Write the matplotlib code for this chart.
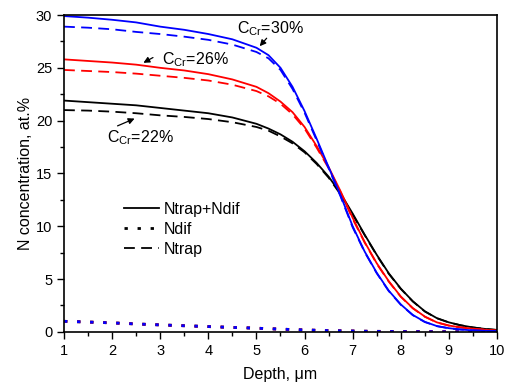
import matplotlib
matplotlib.use("Agg")
import matplotlib.pyplot as plt
from matplotlib.ticker import MultipleLocator

plt.rcParams['font.family'] = ['Liberation Sans', 'DejaVu Sans']
plt.rcParams['mathtext.fontset'] = 'custom'
plt.rcParams['mathtext.rm'] = 'Liberation Sans'
plt.rcParams['mathtext.default'] = 'regular'

# depth, um
depth = [1, 1.5, 2, 2.5, 3, 3.5, 4, 4.5, 5, 5.25, 5.5, 5.75, 6, 6.25, 6.5, 6.75,
         7, 7.25, 7.5, 7.75, 8, 8.25, 8.5, 8.75, 9, 9.25, 9.5, 9.75, 10]

# Ntrap+Ndif (solid)
tot_22 = [21.9, 21.75, 21.6, 21.45, 21.2, 20.95, 20.7, 20.3, 19.7, 19.25, 18.7, 18.0, 17.1, 16.0, 14.7, 13.1,
          11.2, 9.2, 7.3, 5.55, 4.1, 2.9, 1.95, 1.3, 0.9, 0.62, 0.42, 0.28, 0.18]
tot_26 = [25.8, 25.65, 25.5, 25.3, 25.0, 24.75, 24.4, 23.9, 23.2, 22.6, 21.8, 20.8, 19.4, 17.6, 15.6, 13.3,
          10.8, 8.5, 6.5, 4.8, 3.35, 2.25, 1.45, 0.9, 0.6, 0.42, 0.3, 0.2, 0.12]
tot_30 = [29.9, 29.75, 29.55, 29.3, 28.9, 28.6, 28.2, 27.7, 26.9, 26.2, 25.0, 23.2, 20.9, 18.3, 15.6, 12.9,
          10.0, 7.6, 5.6, 3.9, 2.6, 1.6, 0.95, 0.55, 0.35, 0.22, 0.14, 0.1, 0.07]

# Ntrap (dashed)
trap_22 = [21.0, 20.95, 20.85, 20.7, 20.5, 20.35, 20.15, 19.85, 19.4, 19.05, 18.5, 17.85, 17.0, 15.9, 14.6, 13.0,
           11.1, 9.15, 7.25, 5.5, 4.07, 2.88, 1.93, 1.29, 0.89, 0.62, 0.42, 0.28, 0.18]
trap_26 = [24.8, 24.7, 24.6, 24.45, 24.25, 24.05, 23.8, 23.4, 22.8, 22.3, 21.6, 20.6, 19.25, 17.45, 15.5, 13.2,
           10.7, 8.45, 6.45, 4.76, 3.32, 2.23, 1.43, 0.89, 0.59, 0.42, 0.3, 0.2, 0.12]
trap_30 = [28.9, 28.8, 28.65, 28.4, 28.2, 27.95, 27.65, 27.2, 26.5, 25.9, 24.8, 23.0, 20.75, 18.15, 15.5, 12.8,
           9.9, 7.55, 5.55, 3.86, 2.57, 1.58, 0.93, 0.54, 0.34, 0.22, 0.14, 0.1, 0.07]

# Ndif (dotted)
dif = [1.0, 0.93, 0.85, 0.75, 0.66, 0.58, 0.5, 0.42, 0.35, 0.3, 0.26, 0.22, 0.18, 0.15, 0.12, 0.1,
       0.08, 0.06, 0.05, 0.04, 0.03, 0.02, 0.02, 0.01, 0.01, 0.0, 0.0, 0.0, 0.0]

fig = plt.figure(figsize=(5.1, 3.85), dpi=100)
ax = fig.add_axes([0.1255, 0.138, 0.849, 0.823])

lw = 1.3
dash = (0, (6, 3.5))
dot = (0, (1.2, 3.5))
for tot, trap, c in [(tot_22, trap_22, 'black'), (tot_26, trap_26, 'red'), (tot_30, trap_30, 'blue')]:
    ax.plot(depth, tot, color=c, lw=lw)
    ax.plot(depth, trap, color=c, lw=lw, linestyle=dash)
    ax.plot(depth, dif, color=c, lw=2.0, linestyle=dot)

# legend with black proxies
h1, = ax.plot([], [], color='black', lw=lw)
h2, = ax.plot([], [], color='black', lw=2.0, linestyle=dot)
h3, = ax.plot([], [], color='black', lw=lw, linestyle=dash)
ax.legend([h1, h2, h3], ['Ntrap+Ndif', 'Ndif', 'Ntrap'], loc='upper left',
          bbox_to_anchor=(0.105, 0.455), frameon=False, fontsize=11.5,
          handlelength=2.2, handletextpad=0.3, labelspacing=0.3)

# annotations
arrow = dict(arrowstyle='-|>', color='black', lw=0.9, mutation_scale=9)
ax.text(4.6, 28.75, 'C$_{Cr}$=30%', fontsize=11.5, ha='left', va='center')
ax.annotate('', xy=(5.03, 26.85), xytext=(5.25, 28.0), arrowprops=arrow)
ax.text(3.04, 25.8, 'C$_{Cr}$=26%', fontsize=11.5, ha='left', va='center')
ax.annotate('', xy=(2.6, 25.35), xytext=(2.9, 26.1), arrowprops=arrow)
ax.text(1.9, 18.4, 'C$_{Cr}$=22%', fontsize=11.5, ha='left', va='center')
ax.annotate('', xy=(2.52, 20.3), xytext=(2.06, 19.4), arrowprops=arrow)

ax.set_xlim(1, 10)
ax.set_ylim(0, 30)
ax.xaxis.set_major_locator(MultipleLocator(1))
ax.xaxis.set_minor_locator(MultipleLocator(0.5))
ax.yaxis.set_major_locator(MultipleLocator(5))
ax.yaxis.set_minor_locator(MultipleLocator(2.5))
ax.tick_params(which='major', direction='out', length=5, width=1, labelsize=10.5)
ax.tick_params(which='minor', direction='out', length=3, width=1)
for s in ax.spines.values():
    s.set_linewidth(1.2)

ax.set_xlabel('Depth, μm', fontsize=11.5, labelpad=7)
ax.set_ylabel('N concentration, at.%', fontsize=11.5, labelpad=2)

fig.savefig('out.png', dpi=100)
